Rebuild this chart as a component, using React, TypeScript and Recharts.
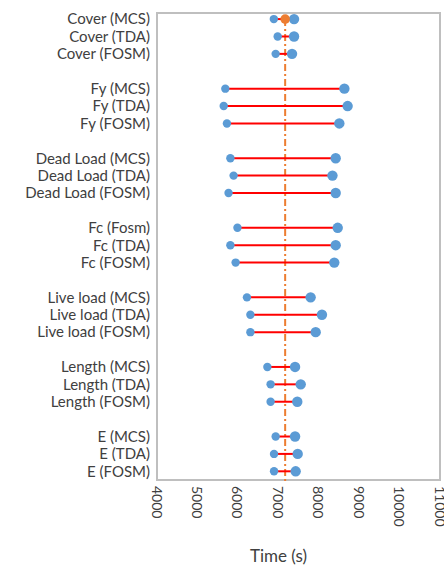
import { ComposedChart, ReferenceArea, ReferenceLine, Scatter, XAxis, YAxis } from 'recharts'

const labels = [
  'Cover (MCS)', 'Cover (TDA)', 'Cover (FOSM)',
  'Fy (MCS)', 'Fy (TDA)', 'Fy (FOSM)',
  'Dead Load (MCS)', 'Dead Load (TDA)', 'Dead Load (FOSM)',
  'Fc (Fosm)', 'Fc (TDA)', 'Fc (FOSM)',
  'Live load (MCS)', 'Live load (TDA)', 'Live load (FOSM)',
  'Length (MCS)', 'Length (TDA)', 'Length (FOSM)',
  'E (MCS)', 'E (TDA)', 'E (FOSM)',
]

// row slot on the y axis (groups of three, one empty slot between groups)
const positions = [0, 1, 2, 4, 5, 6, 8, 9, 10, 12, 13, 14, 16, 17, 18, 20, 21, 22, 24, 25, 26]

const lowValues = [
  6890, 6985, 6935,
  5690, 5650, 5730,
  5815, 5895, 5770,
  5990, 5815, 5945,
  6225, 6310, 6310,
  6730, 6810, 6810,
  6935, 6895, 6895,
]

const highValues = [
  7390, 7390, 7340,
  8635, 8715, 8510,
  8420, 8340, 8420,
  8470, 8420, 8385,
  7800, 8080, 7925,
  7415, 7555, 7470,
  7415, 7480, 7430,
]

const meanTime = 7170
const xTicks = [4000, 5000, 6000, 7000, 8000, 9000, 10000, 11000]

const rows = labels.map((label, i) => ({
  label,
  pos: positions[i],
  low: lowValues[i],
  high: highValues[i],
}))
const lowPoints = rows.map((r) => ({ x: r.low, y: r.pos }))
const highPoints = rows.map((r) => ({ x: r.high, y: r.pos }))
const meanPoint = [{ x: meanTime, y: positions[0] }]

const FONT = 'Lato, "Open Sans", sans-serif'
const BLUE = '#5B9BD5'
const ORANGE = '#ED7D31'
const TEXT = '#404040'

function XTick({ x, y, payload }: any) {
  return (
    <text
      x={x}
      y={y - 2}
      transform={`rotate(90, ${x}, ${y - 2})`}
      textAnchor="start"
      dominantBaseline="central"
      fontSize={14}
      fontFamily={FONT}
      fill={TEXT}
    >
      {payload.value}
    </text>
  )
}

export default function App() {
  return (
    <div style={{ position: 'absolute', left: 0, top: 0, background: '#fff' }}>
      <ComposedChart width={444} height={566} margin={{ top: 13, right: 4, left: 0, bottom: 0 }}>
        <XAxis
          type="number"
          dataKey="x"
          domain={[4000, 11000]}
          ticks={xTicks}
          interval={0}
          tick={<XTick />}
          tickLine={false}
          axisLine={false}
          height={86}
          label={{ value: 'Time (s)', position: 'insideBottom', offset: 4, dx: -20, fontSize: 17, fontFamily: FONT, fill: TEXT }}
        />
        <YAxis
          type="number"
          dataKey="y"
          reversed
          domain={[-0.35, 26.5]}
          ticks={positions}
          interval={0}
          tickFormatter={(v: number) => labels[positions.indexOf(v)] ?? ''}
          tick={{ fontSize: 15, fontFamily: FONT, fill: TEXT }}
          tickLine={false}
          axisLine={false}
          tickMargin={1}
          width={157}
        />
        <ReferenceArea x1={4000} x2={11000} y1={-0.35} y2={26.5} fill="none" stroke="#BFBFBF" strokeWidth={2} ifOverflow="visible" />
        <ReferenceLine
          segment={[{ x: meanTime, y: 0 }, { x: meanTime, y: 26.7 }]}
          stroke={ORANGE}
          strokeWidth={2}
          strokeDasharray="7 3 2 3"
          ifOverflow="visible"
        />
        {rows.map((r) => (
          <ReferenceLine
            key={r.label}
            segment={[{ x: r.low, y: r.pos }, { x: r.high, y: r.pos }]}
            stroke="#FF0000"
            strokeWidth={2}
          />
        ))}
        <Scatter data={lowPoints} fill={BLUE} isAnimationActive={false} shape={(p: any) => <circle cx={p.cx} cy={p.cy} r={4.2} fill={BLUE} />} />
        <Scatter data={highPoints} fill={BLUE} isAnimationActive={false} shape={(p: any) => <circle cx={p.cx} cy={p.cy} r={5.2} fill={BLUE} />} />
        <Scatter data={meanPoint} fill={ORANGE} isAnimationActive={false} shape={(p: any) => <circle cx={p.cx} cy={p.cy} r={4.8} fill={ORANGE} />} />
      </ComposedChart>
    </div>
  )
}
